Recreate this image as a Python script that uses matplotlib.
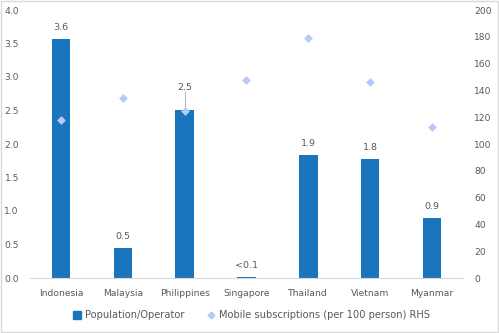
import matplotlib
matplotlib.use("Agg")
import matplotlib.pyplot as plt
from matplotlib.lines import Line2D
from matplotlib.patches import Rectangle

categories = ["Indonesia", "Malaysia", "Philippines", "Singapore", "Thailand", "Vietnam", "Myanmar"]
pop_per_operator = [3.57, 0.45, 2.51, 0.02, 1.84, 1.78, 0.90]
bar_labels = ["3.6", "0.5", "2.5", "<0.1", "1.9", "1.8", "0.9"]
mobile_subs = [118, 134, 125, 148, 179, 146, 113]

left_ticks = [0.0, 0.5, 1.0, 1.5, 2.0, 2.5, 3.0, 3.5, 4.0]
right_ticks = [0, 20, 40, 60, 80, 100, 120, 140, 160, 180, 200]

bar_color = "#1B75BC"
diamond_color = "#B8C8F8"
text_color = "#595959"

fig = plt.figure(figsize=(4.99, 3.33), dpi=100)
fig.patch.set_facecolor("white")
fig.add_artist(Rectangle((0.002, 0.003), 0.996, 0.994, transform=fig.transFigure,
                         fill=False, edgecolor="#D9D9D9", linewidth=1.0))

ax = fig.add_axes([30/499, 1 - 278/333, (463-30)/499, (278-10)/333])
x = list(range(len(categories)))
ax.bar(x, pop_per_operator, width=0.3, color=bar_color, zorder=2)
ax.set_xlim(-0.5, len(categories) - 0.5)
ax.set_ylim(0, 4.0)
ax.set_yticks(left_ticks)
ax.set_yticklabels([f"{t:.1f}" for t in left_ticks])
ax.set_xticks(x)
ax.set_xticklabels(categories)
for s in ["top", "right", "left"]:
    ax.spines[s].set_visible(False)
ax.spines["bottom"].set_color("#D9D9D9")
ax.tick_params(axis="both", length=0, labelsize=6.6, colors=text_color, pad=8)
ax.tick_params(axis="x", pad=8)

for i, (v, lab) in enumerate(zip(pop_per_operator, bar_labels)):
    if lab == "2.5":
        ax.text(i, v + 0.27, lab, ha="center", va="bottom", fontsize=6.8, color=text_color)
    else:
        ax.text(i, v + 0.1, lab, ha="center", va="bottom", fontsize=6.8, color=text_color)

ax2 = ax.twinx()
ax2.set_ylim(0, 200)
ax2.set_yticks(right_ticks)
ax2.set_yticklabels([str(t) for t in right_ticks])
for s in ["top", "right", "left", "bottom"]:
    ax2.spines[s].set_visible(False)
ax2.tick_params(axis="y", length=0, labelsize=6.6, colors=text_color, pad=8)
ax2.scatter(x, mobile_subs, marker="D", s=20, color=diamond_color, zorder=3, linewidths=0)

# leader line for Philippines label
pi = categories.index("Philippines")
ax.plot([pi, pi], [pop_per_operator[pi] + 0.26, mobile_subs[pi] / 50 + 0.05],
        color="#A6A6A6", linewidth=0.6, zorder=4)

handles = [
    Line2D([0], [0], marker="s", linestyle="none", markersize=5.5, markerfacecolor=bar_color,
           markeredgecolor=bar_color),
    Line2D([0], [0], marker="D", linestyle="none", markersize=3.5, markerfacecolor=diamond_color,
           markeredgecolor=diamond_color),
]
fig.legend(handles, ["Population/Operator", "Mobile subscriptions (per 100 person) RHS"],
           loc="center", bbox_to_anchor=(0.503, 1 - 315/333), ncol=2, frameon=False,
           fontsize=7.1, labelcolor=text_color, handletextpad=0.3, columnspacing=2.2,
           handlelength=1.0)

fig.savefig("out.png", dpi=100, facecolor="white")
